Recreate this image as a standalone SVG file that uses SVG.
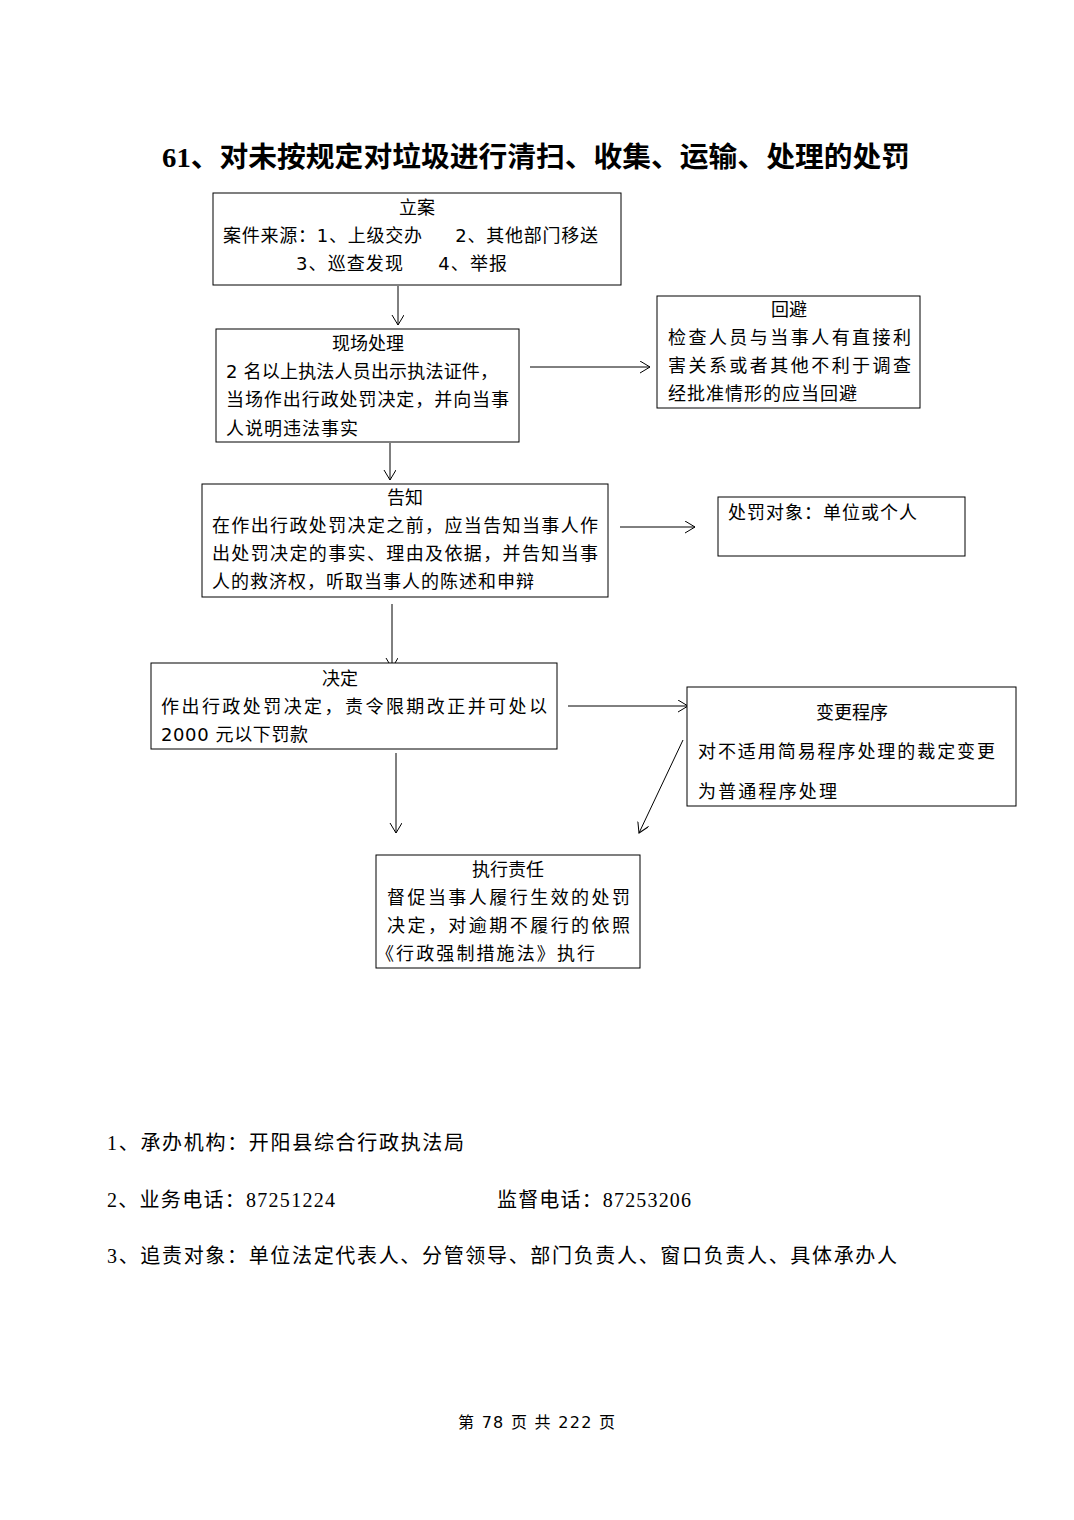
<svg xmlns="http://www.w3.org/2000/svg" width="1074" height="1520" viewBox="0 0 1074 1520">
<style>
.box{fill:#fff;stroke:#000;stroke-width:1}
.t{font-family:"DejaVu Sans","Noto Sans CJK SC",sans-serif;font-size:18px;fill:#000}
.c{text-anchor:middle}
.title{font-family:"Liberation Serif","Noto Sans CJK SC",serif;font-size:28px;font-weight:bold;fill:#000}
.foot{font-family:"Liberation Serif","Noto Sans CJK SC",serif;font-size:20px;fill:#000}
.pg{font-family:"DejaVu Sans","Noto Sans CJK SC",sans-serif;font-size:16px;fill:#000}
.conn{stroke:#000;stroke-width:1;fill:none}
</style>
<defs>
<marker id="ah" markerUnits="userSpaceOnUse" markerWidth="14" markerHeight="14" refX="10" refY="6" orient="auto">
<path d="M0,0 L10,6 L0,12" fill="none" stroke="#000" stroke-width="1"/>
</marker>
</defs>
<rect width="1074" height="1520" fill="#fff"/>
<text class="title" x="162" y="167" textLength="748" lengthAdjust="spacingAndGlyphs">61、对未按规定对垃圾进行清扫、收集、运输、处理的处罚</text>

<g id="connectors">
<line class="conn" x1="398" y1="286" x2="398" y2="325" marker-end="url(#ah)"/>
<line class="conn" x1="530" y1="367" x2="650" y2="367" marker-end="url(#ah)"/>
<line class="conn" x1="390" y1="443" x2="390" y2="480" marker-end="url(#ah)"/>
<line class="conn" x1="620" y1="527" x2="695" y2="527" marker-end="url(#ah)"/>
<line class="conn" x1="392" y1="604" x2="392" y2="668" marker-end="url(#ah)"/>
<line class="conn" x1="568" y1="706" x2="688" y2="706" marker-end="url(#ah)"/>
<line class="conn" x1="683" y1="740" x2="639" y2="833" marker-end="url(#ah)"/>
<line class="conn" x1="396" y1="753" x2="396" y2="833" marker-end="url(#ah)"/>
</g>

<g id="n_lian">
<rect class="box" x="213" y="193" width="408" height="92"/>
<text class="t c" x="417" y="214">立案</text>
<text class="t" x="223" y="242" textLength="375" lengthAdjust="spacing" xml:space="preserve">案件来源：1、上级交办     2、其他部门移送</text>
<text class="t" x="296" y="270" textLength="211" lengthAdjust="spacing" xml:space="preserve">3、巡查发现     4、举报</text>
</g>

<g id="n_xianchang">
<rect class="box" x="216" y="329" width="303" height="113"/>
<text class="t c" x="368" y="350">现场处理</text>
<text class="t" x="226" y="378" textLength="272" lengthAdjust="spacing">2 名以上执法人员出示执法证件，</text>
<text class="t" x="226" y="406" textLength="283" lengthAdjust="spacing">当场作出行政处罚决定，并向当事</text>
<text class="t" x="226" y="435" textLength="132" lengthAdjust="spacing">人说明违法事实</text>
</g>

<g id="n_huibi">
<rect class="box" x="657" y="296" width="263" height="112"/>
<text class="t c" x="789" y="316">回避</text>
<text class="t" x="668" y="344" textLength="243" lengthAdjust="spacing">检查人员与当事人有直接利</text>
<text class="t" x="668" y="372" textLength="243" lengthAdjust="spacing">害关系或者其他不利于调查</text>
<text class="t" x="668" y="400" textLength="189" lengthAdjust="spacing">经批准情形的应当回避</text>
</g>

<g id="n_gaozhi">
<rect class="box" x="202" y="484" width="406" height="113"/>
<text class="t c" x="405" y="504">告知</text>
<text class="t" x="212" y="532" textLength="386" lengthAdjust="spacing">在作出行政处罚决定之前，应当告知当事人作</text>
<text class="t" x="212" y="560" textLength="386" lengthAdjust="spacing">出处罚决定的事实、理由及依据，并告知当事</text>
<text class="t" x="212" y="588" textLength="322" lengthAdjust="spacing">人的救济权，听取当事人的陈述和申辩</text>
</g>

<g id="n_duixiang">
<rect class="box" x="718" y="497" width="247" height="59"/>
<text class="t" x="728" y="519" textLength="189" lengthAdjust="spacing">处罚对象：单位或个人</text>
</g>

<g id="n_jueding">
<rect class="box" x="151" y="663" width="406" height="86"/>
<text class="t c" x="340" y="685">决定</text>
<text class="t" x="161" y="713" textLength="386" lengthAdjust="spacing">作出行政处罚决定，责令限期改正并可处以</text>
<text class="t" x="161" y="741" textLength="147" lengthAdjust="spacing">2000 元以下罚款</text>
</g>

<g id="n_biangeng">
<rect class="box" x="687" y="687" width="329" height="119"/>
<text class="t c" x="852" y="719">变更程序</text>
<text class="t" x="698" y="758" textLength="297" lengthAdjust="spacing">对不适用简易程序处理的裁定变更</text>
<text class="t" x="698" y="798" textLength="139" lengthAdjust="spacing">为普通程序处理</text>
</g>

<g id="n_zhixing">
<rect class="box" x="376" y="855" width="264" height="113"/>
<text class="t c" x="508" y="876">执行责任</text>
<text class="t" x="387" y="904" textLength="243" lengthAdjust="spacing">督促当事人履行生效的处罚</text>
<text class="t" x="387" y="932" textLength="243" lengthAdjust="spacing">决定，对逾期不履行的依照</text>
<text class="t" x="376" y="960" textLength="219" lengthAdjust="spacing">《行政强制措施法》执行</text>
</g>

<g id="footer">
<text class="foot" x="107" y="1150" textLength="357" lengthAdjust="spacing">1、承办机构：开阳县综合行政执法局</text>
<text class="foot" x="107" y="1207" textLength="228" lengthAdjust="spacing">2、业务电话：87251224</text>
<text class="foot" x="497" y="1207" textLength="194" lengthAdjust="spacing">监督电话：87253206</text>
<text class="foot" x="107" y="1263" textLength="790" lengthAdjust="spacing">3、追责对象：单位法定代表人、分管领导、部门负责人、窗口负责人、具体承办人</text>
<text class="pg" x="458" y="1428" textLength="157" lengthAdjust="spacing" xml:space="preserve">第 78 页 共 222 页</text>
</g>
</svg>
